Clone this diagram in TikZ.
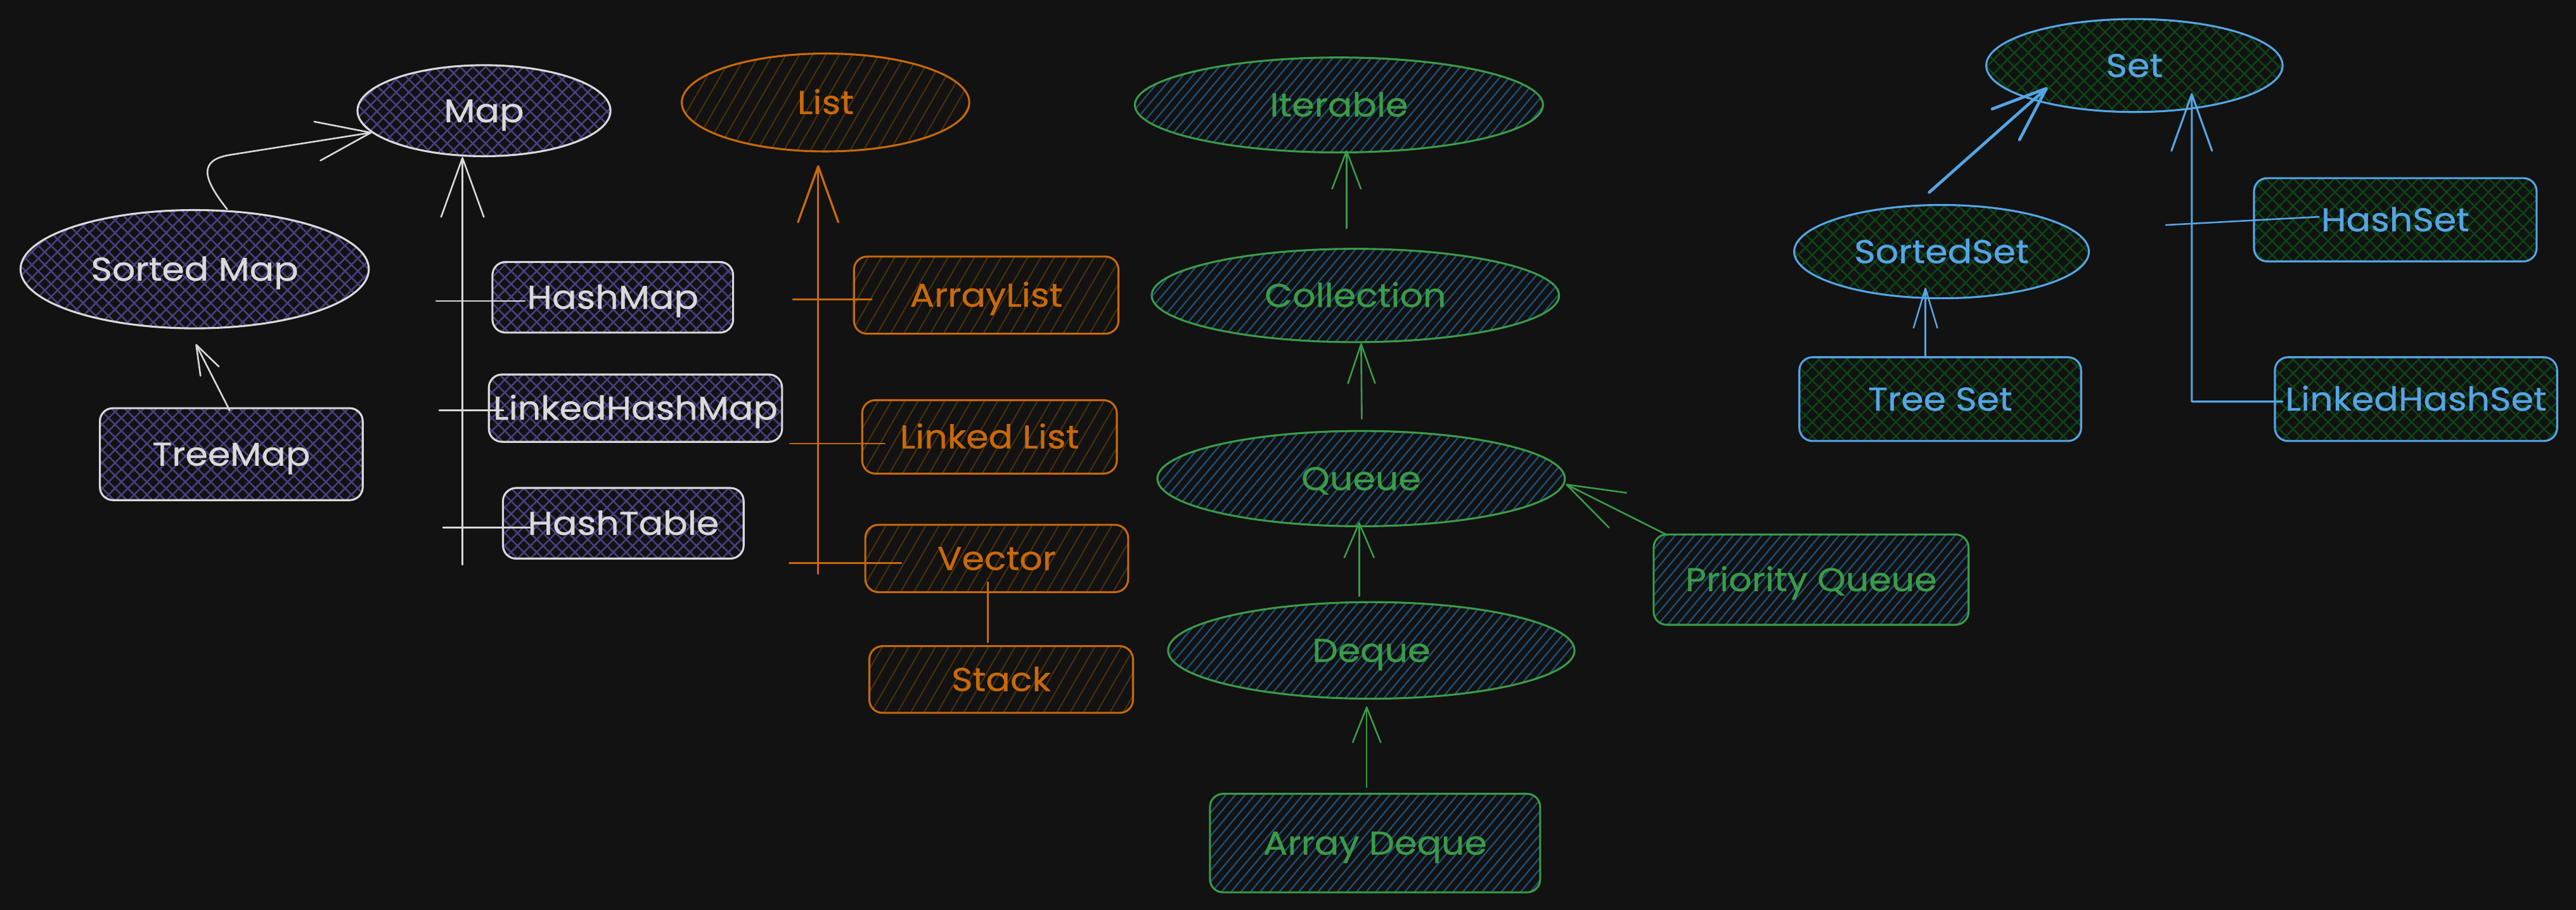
\documentclass[tikz,border=0pt]{standalone}
\usepackage{fontspec}
\setmainfont{Poppins}[FakeStretch=1.1, FakeBold=0.6]
\usetikzlibrary{shapes.geometric,arrows.meta,patterns.meta,calc}
\definecolor{bgc}{HTML}{121212}
\definecolor{mapc}{HTML}{D9D9D9}
\definecolor{maph}{HTML}{4A3E80}
\definecolor{listc}{HTML}{C8690A}
\definecolor{listh}{HTML}{4B300A}
\definecolor{itc}{HTML}{3A9B48}
\definecolor{ith}{HTML}{1E5078}
\definecolor{setc}{HTML}{55A5E6}
\definecolor{seth}{HTML}{0E4416}
\begin{document}
\begin{tikzpicture}[x=1pt,y=-1pt,
  font=\fontsize{20}{24}\selectfont,
  every node/.style={inner sep=0pt, text height=14pt, text depth=0pt},
  ell/.style={ellipse, line width=1.2pt},
  box/.style={rectangle, rounded corners=8pt, line width=1.2pt},
  mapsty/.style={draw=mapc, text=mapc, pattern={Hatch[angle=45,distance=5.5pt,line width=1pt]}, pattern color=maph},
  liststy/.style={draw=listc, text=listc, pattern={Lines[angle=60,distance=7pt,line width=.8pt]}, pattern color=listh},
  itsty/.style={draw=itc, text=itc, pattern={Lines[angle=50,distance=4.5pt,line width=.9pt]}, pattern color=ith},
  setsty/.style={draw=setc, text=setc, pattern={Hatch[angle=45,distance=6pt,line width=1pt]}, pattern color=seth},
  conn/.style={line width=1pt, line cap=round, line join=round},
  barb/.style 2 args={-{Straight Barb[length=#1,width=#2,round]}},
]
\fill[bgc] (0,0) rectangle (1568,554);
\useasboundingbox (0,0) rectangle (1568,554);

% ---------- Map group ----------
\node[ell, mapsty, minimum width=154pt, minimum height=55.4pt] (Map) at (294.6,67.4) {Map};
\node[ell, mapsty, minimum width=212pt, minimum height=72pt] (SortedMap) at (118.5,163.9) {Sorted Map};
\node[box, mapsty, minimum width=160pt, minimum height=56pt] (TreeMap) at (140.8,276.5) {TreeMap};
\node[box, mapsty, minimum width=146.5pt, minimum height=43pt] (HashMap) at (373,181) {HashMap};
\node[box, mapsty, minimum width=178.5pt, minimum height=41pt] (LinkedHashMap) at (386.8,248.5) {LinkedHashMap};
\node[box, mapsty, minimum width=146.5pt, minimum height=43pt] (HashTable) at (379.4,318.6) {HashTable};

\coordinate (maptrunk) at (281.5,343.8);
\coordinate (mt1) at (265.5,183.3);
\coordinate (mt2) at (267.4,249.8);
\coordinate (mt3) at (269.7,321.1);
\draw[conn, mapc, barb={36pt}{26pt}] (maptrunk) -- (maptrunk |- Map.south);
\draw[conn, mapc] (mt1) -- ($(HashMap.west)+(20.3,2.3)$);
\draw[conn, mapc] (mt2) -- ($(LinkedHashMap.west)+(9.5,1.3)$);
\draw[conn, mapc] (mt3) -- ($(HashTable.west)+(17,2.5)$);
\draw[conn, mapc, barb={33pt}{24pt}] ($(SortedMap.north)+(19.7,0)$) .. controls (123,108) and (121,97.5) .. (140,94.3) -- (Map.191);
\draw[conn, mapc, barb={18pt}{12.5pt}] ($(TreeMap.north)+(-1,2)$) -- ($(SortedMap.south)+(0.7,9)$);

% ---------- List group ----------
\node[ell, liststy, minimum width=175pt, minimum height=59.6pt] (List) at (502.5,62.4) {List};
\node[box, liststy, minimum width=161pt, minimum height=47pt] (ArrayList) at (600.3,179.7) {ArrayList};
\node[box, liststy, minimum width=155pt, minimum height=44.7pt] (LinkedList) at (602.3,266) {Linked List};
\node[box, liststy, minimum width=160pt, minimum height=41pt] (Vector) at (606.7,340) {Vector};
\node[box, liststy, minimum width=160.5pt, minimum height=40.6pt] (Stack) at (609.4,413.7) {Stack};

\coordinate (listtrunk) at (498,349.3);
\coordinate (lt1) at (482.6,182.3);
\coordinate (lt2) at (480.8,270);
\coordinate (lt3) at (480.5,342.8);
\draw[conn, listc, line width=1.3pt, barb={34pt}{24.5pt}] (listtrunk) -- ($(listtrunk |- List.south)+(0,8)$);
\draw[conn, listc] (lt1) -- ($(ArrayList.west)+(11.4,2.6)$);
\draw[conn, listc] (lt2) -- ($(LinkedList.west)+(14.3,4)$);
\draw[conn, listc] (lt3) -- ($(Vector.west)+(22.6,2.8)$);
\draw[conn, listc] ($(Vector.south)+(-5.4,-6.7)$) -- ($(Stack.north)+(-8.1,-1.6)$);

% ---------- Iterable group ----------
\node[ell, itsty, minimum width=248.4pt, minimum height=57.8pt] (Iterable) at (815,63.9) {Iterable};
\node[ell, itsty, minimum width=248pt, minimum height=56.8pt] (Collection) at (825,179.9) {Collection};
\node[ell, itsty, minimum width=248pt, minimum height=58pt] (Queue) at (828.5,291.4) {Queue};
\node[ell, itsty, minimum width=247.4pt, minimum height=58.8pt] (Deque) at (834.7,396) {Deque};
\node[box, itsty, minimum width=201pt, minimum height=60pt] (ArrayDeque) at (837,513.3) {Array Deque};
\node[box, itsty, minimum width=191.7pt, minimum height=55pt] (PriorityQueue) at (1102.4,352.9) {Priority Queue};

\draw[conn, itc, barb={23pt}{17.5pt}] ($(Collection.north)+(-5.4,-11.9)$) -- ($(Iterable.south)+(4.6,-1.8)$);
\draw[conn, itc, barb={24pt}{16.5pt}] ($(Queue.north)+(0.4,-6.8)$) -- (Queue.north |- Collection.south);
\draw[conn, itc, barb={21pt}{18pt}] ($(Deque.north)+(-7.4,-3.1)$) -- ($(Deque.north |- Queue.south)+(-7.4,-3.1)$);
\draw[conn, itc, barb={21.4pt}{17pt}] ($(ArrayDeque.north)+(-5.1,-3.4)$) -- ($(ArrayDeque.north |- Deque.south)+(-5.1,4.1)$);
\draw[conn, itc, barb={34.8pt}{23.7pt}] ($(PriorityQueue.north west)+(9,1)$) -- ($(Queue.east)+(0,3.4)$);

% ---------- Set group ----------
\node[ell, setsty, minimum width=180.4pt, minimum height=56.6pt] (Set) at (1299.2,39.9) {Set};
\node[ell, setsty, minimum width=179.4pt, minimum height=56.8pt] (SortedSet) at (1181.8,153.2) {SortedSet};
\node[box, setsty, minimum width=172pt, minimum height=50.7pt] (HashSet) at (1458,133.8) {HashSet};
\node[box, setsty, minimum width=171.5pt, minimum height=51pt] (TreeSet) at (1181,243) {Tree Set};
\node[box, setsty, minimum width=171.8pt, minimum height=51pt] (LinkedHashSet) at (1470.6,243) {LinkedHashSet};

\coordinate (settrunk) at (1334.1,244.5);
\coordinate (st1) at (1318.3,137);
\draw[conn, setc, line width=1.2pt, barb={34.5pt}{24.7pt}] ($(LinkedHashSet.west)+(5.3,1.5)$) -- (settrunk) -- ($(Set.center)+(34.9,16.8)$);
\draw[conn, setc] (st1) -- ($(HashSet.west)+(40.1,-1.8)$);
\draw[conn, setc, line width=1.8pt, barb={33pt}{25pt}] ($(SortedSet.north)+(-7.5,-7.1)$) -- ($(Set.center)+(-52.9,13.3)$);
\draw[conn, setc, barb={24pt}{14.5pt}] ($(TreeSet.north)+(-9,1)$) -- ($(TreeSet.north |- SortedSet.south)+(-9,-7.1)$);
\end{tikzpicture}
\end{document}
